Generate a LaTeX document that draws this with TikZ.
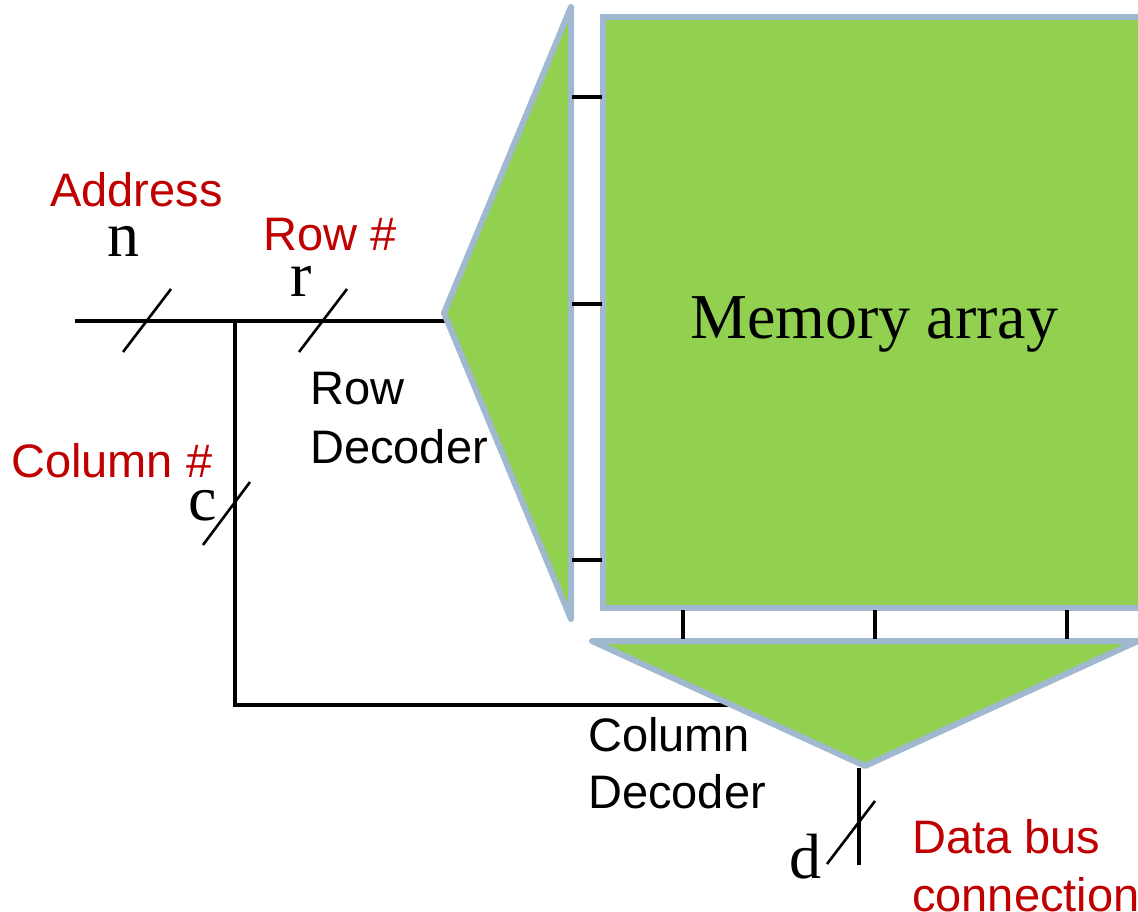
\documentclass[tikz,border=0pt]{standalone}
\usepackage{fontspec}
\setmainfont{Liberation Serif}
\newfontfamily\arialfont{Liberation Sans}
\definecolor{blockgreen}{RGB}{146,208,80}
\definecolor{edgeblue}{RGB}{160,184,208}
\definecolor{labelred}{RGB}{192,0,0}
\begin{document}
\begin{tikzpicture}[x=1pt,y=-1pt,
  bus/.style={line width=4pt},
  slash/.style={line width=2.6pt},
  block/.style={fill=blockgreen, draw=edgeblue, line width=6pt, line join=round},
  tickline/.style={line width=4pt},
  lbl/.style={font=\arialfont\fontsize{47}{56}\selectfont, inner sep=0pt, anchor=base west},
  redlbl/.style={lbl, text=labelred},
  var/.style={font=\fontsize{64}{72}\selectfont, inner sep=0pt, anchor=base west}]

\useasboundingbox (0,0) rectangle (1138,912);
\clip (0,0) rectangle (1138,912);

% bus wiring
\coordinate (start) at (75,321);
\coordinate (split) at (235,321);
\coordinate (rowin) at (448,321);
\coordinate (bend)  at (235,705);
\coordinate (colin) at (729,705);
\draw[bus] (start) -- (split) -- (rowin);
\draw[bus] (split) -- (bend) -- (colin);

% bus width marks
\coordinate (n1) at (123,352); \coordinate (n2) at (171,289);
\coordinate (r1) at (299,352); \coordinate (r2) at (347,289);
\coordinate (c1) at (203,545); \coordinate (c2) at (250,482);
\draw[slash] (n1) -- (n2);
\draw[slash] (r1) -- (r2);
\draw[slash] (c1) -- (c2);

% row decoder
\coordinate (rdtop) at (571,7);
\coordinate (rdtip) at (444,313);
\coordinate (rdbot) at (571,619);
\draw[block] (rdtop) -- (rdtip) -- (rdbot) -- cycle;

% memory array
\coordinate (memnw) at (603,17);
\coordinate (memse) at (1160,608);
\draw[block, line join=miter] (memnw) rectangle (memse);

% column decoder
\coordinate (cdl) at (592,641);
\coordinate (cdtip) at (865,766);
\coordinate (cdr) at (1138,641);
\draw[block] (cdl) -- (cdtip) -- (cdr) -- cycle;

% word lines and bit lines
\foreach \y/\k in {97/a,304/b,560/c}{
  \coordinate (wl\k1) at (572,\y); \coordinate (wl\k2) at (602,\y);
  \draw[tickline] (wl\k1) -- (wl\k2);
}
\foreach \x/\k in {683/a,875/b,1067/c}{
  \coordinate (bl\k1) at (\x,610); \coordinate (bl\k2) at (\x,639);
  \draw[tickline] (bl\k1) -- (bl\k2);
}

% data bus
\coordinate (dtop) at (859,768);
\coordinate (dbot) at (859,865);
\draw[bus] (dtop) -- (dbot);
\coordinate (d1) at (827,864); \coordinate (d2) at (875,801);
\draw[slash] (d1) -- (d2);

% labels
\node[redlbl] (addr) at (50,207) {Address};
\node[var] (nlab) at (107,257) {n};
\node[redlbl] (rownum) at (263,251) {Row \#};
\node[var] (rlab) at (290,296) {r};
\node[lbl] (rowdec1) at (310,404) {Row};
\node[lbl] (rowdec2) at (310,463) {Decoder};
\node[redlbl] (colnum) at (11,477) {Column \#};
\node[var] (clab) at (188,520) {c};
\node[var] (memlab) at (690,338) {Memory array};
\node[lbl] (coldec1) at (588,751) {Column};
\node[lbl] (coldec2) at (588,808) {Decoder};
\node[var] (dlab) at (789,878) {d};
\node[redlbl] (data1) at (912,853) {Data bus};
\node[redlbl] (data2) at (912,911) {connection};
\end{tikzpicture}
\end{document}
